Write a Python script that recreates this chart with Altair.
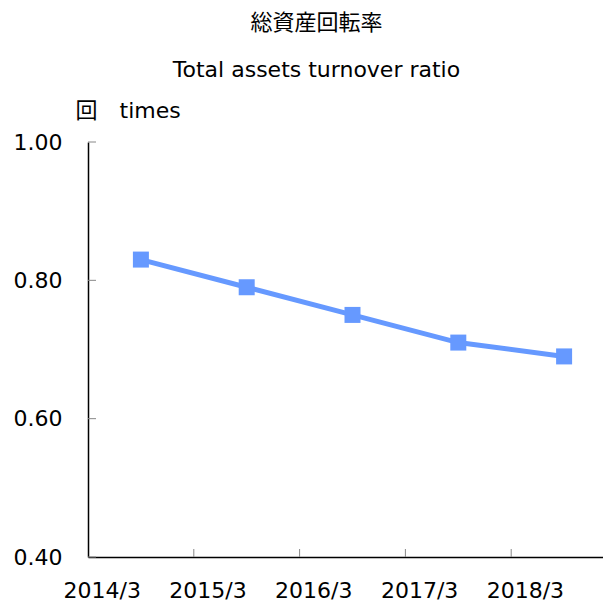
import altair as alt
import pandas as pd

years = ["2014/3", "2015/3", "2016/3", "2017/3", "2018/3"]
ratio = [0.83, 0.79, 0.75, 0.71, 0.69]
y_ticks = [0.40, 0.60, 0.80, 1.00]
title_lines = ["総資産回転率", "Total assets turnover ratio"]
y_title = "回　times"

FONT = "DejaVu Sans, Noto Sans CJK JP"
BLUE = "#6699FF"
W, H = 515, 415
PAD_L, PAD_T, PAD_B = 80, 134, 44

df = pd.DataFrame({"year": years, "ratio": ratio})
tick_df = pd.DataFrame({"v": y_ticks})
xtick_df = pd.DataFrame({"year": years[1:]})

xscale = alt.Scale(type="band", domain=years, paddingInner=0, paddingOuter=0, range=[0, 529])
yscale = alt.Scale(domain=[0.4, 1.0], nice=False, zero=False)

xaxis = alt.Axis(title=None, labelFont=FONT, labelFontSize=22, labelColor="black",
                 labelPadding=33, labelBaseline="middle", ticks=False, domainColor="black",
                 domainWidth=1.5, labelAngle=0, grid=False)
yaxis = alt.Axis(title=y_title, values=y_ticks, format=".2f", ticks=False, grid=False,
                 labelFontSize=22, labelFont=FONT, labelColor="black", labelPadding=26,
                 domainColor="black", domainWidth=1.5, titleAngle=0, titleAlign="left",
                 titleBaseline="middle", titleX=-13, titleY=-32, titleFont=FONT,
                 titleFontSize=22, titleFontWeight="normal", titleColor="black")

x_enc = alt.X("year:N", scale=xscale, axis=xaxis, sort=years, bandPosition=0.5)
y_enc = alt.Y("ratio:Q", scale=yscale, axis=yaxis)

line = alt.Chart(df).mark_line(color=BLUE, strokeWidth=5).encode(x=x_enc, y=y_enc)
points = alt.Chart(df).mark_square(color=BLUE, size=256, opacity=1).encode(x=x_enc, y=y_enc)
yt = alt.Chart(tick_df).mark_rule(color="#888888", strokeWidth=1).encode(
    y=alt.Y("v:Q", scale=yscale), x=alt.value(0), x2=alt.value(8))
xt = alt.Chart(xtick_df).mark_rule(color="#888888", strokeWidth=1).encode(
    x=alt.X("year:N", scale=xscale, sort=years, bandPosition=0), y=alt.value(H), y2=alt.value(H - 8))

chart = alt.layer(yt, xt, line, points).properties(
    width=W, height=H,
    autosize=alt.AutoSizeParams(type="none"),
    padding={"left": PAD_L, "top": PAD_T, "right": 0, "bottom": PAD_B},
    title=alt.TitleParams(text=title_lines, font=FONT, fontSize=22, fontWeight="normal",
                          color="black", lineHeight=47, anchor="middle", dx=-29, offset=17),
).configure_view(stroke=None)

chart.save("out.html", embed_options={"renderer": "svg", "actions": False})
